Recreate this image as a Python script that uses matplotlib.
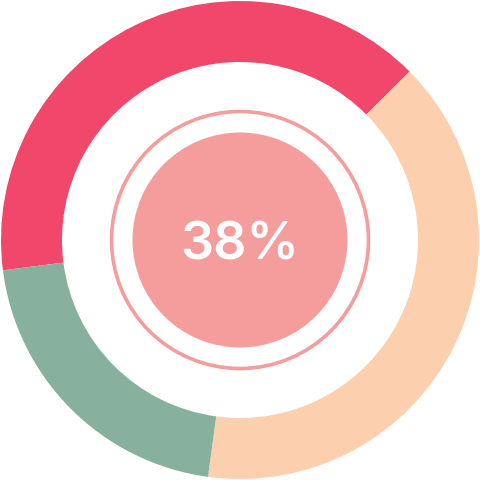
import matplotlib.pyplot as plt
from matplotlib.patches import Circle

# Donut segments (clockwise from the left edge)
labels = ['Red', 'Peach', 'Green']
values = [38, 38, 20]
colors = ['#F0476A', '#FCD0AF', '#87B09D']
center_label = '38%'

fig = plt.figure(figsize=(4.8, 4.8), dpi=100)
ax = fig.add_axes([0, 0, 1, 1])

ax.pie(values, colors=colors, radius=239, startangle=187.3, counterclock=False,
       wedgeprops=dict(width=61, linewidth=0))

# Inner outline ring and filled disc
ax.add_patch(Circle((0, 0), 128.5, fill=False, edgecolor='#F59C9C', linewidth=2.6))
ax.add_patch(Circle((0, 0), 107.5, facecolor='#F59C9C', edgecolor='none'))

ax.text(0, -19.5, center_label, ha='center', va='baseline', color='white',
        fontsize=37.5, fontweight='semibold', family='Inter')

ax.set_xlim(-240, 240)
ax.set_ylim(-240, 240)
ax.set_aspect('equal')
ax.axis('off')

plt.savefig('out.png', dpi=100)
plt.close()
